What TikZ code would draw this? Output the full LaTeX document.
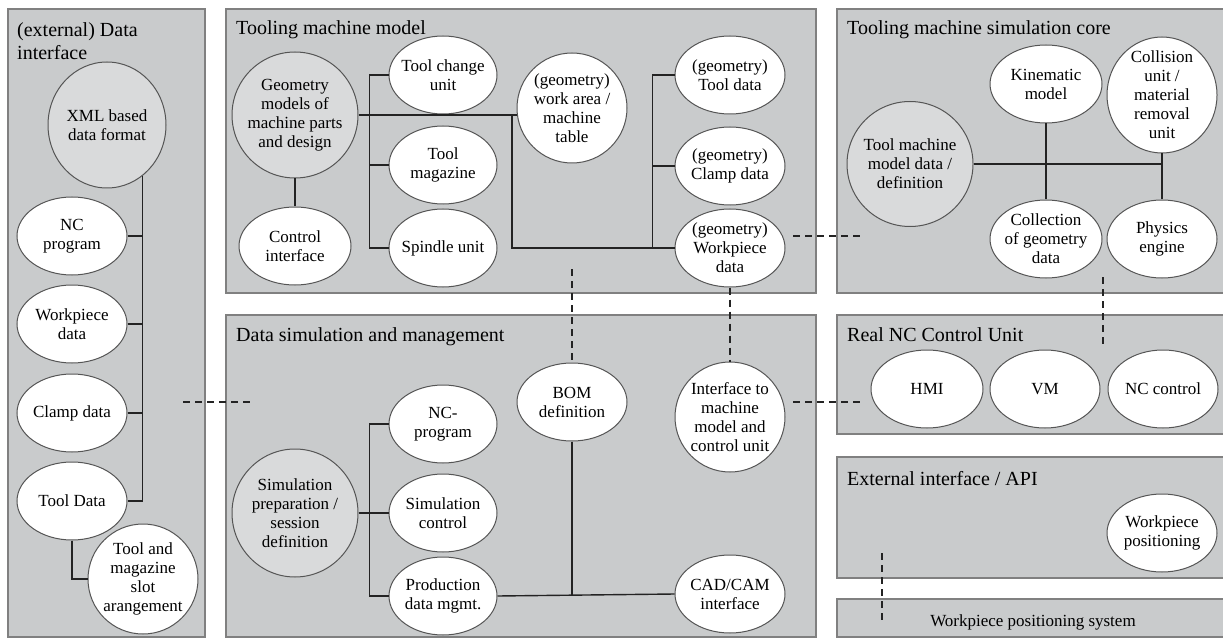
\documentclass[tikz,border=0pt]{standalone}
\usepackage{fontspec}
\setmainfont{Liberation Serif}
\usepackage{xcolor}
\usepackage{tikz}
\usetikzlibrary{positioning,shapes.geometric}

\definecolor{panelgrey}{RGB}{201,203,204}
\definecolor{panelline}{RGB}{128,128,128}
\definecolor{coregrey}{RGB}{217,218,219}
\definecolor{rimgrey}{RGB}{85,85,85}
\definecolor{wiregrey}{RGB}{35,35,35}

\newcommand{\unitfont}{\fontsize{17}{19}\selectfont}
\newcommand{\titlefont}{\fontsize{20}{23}\selectfont}

\tikzset{
    panel/.style={draw=panelline, fill=panelgrey, line width=1.6pt},
    paneltitle/.style={anchor=base west, inner sep=0pt, font=\titlefont},
    unit/.style={ellipse, draw=rimgrey, fill=white, line width=1pt,
        align=center, inner sep=-4pt,
        minimum width=110pt, minimum height=78pt, font=\unitfont},
    core/.style={unit, fill=coregrey,
        minimum width=126pt, minimum height=126pt},
    link/.style={draw=wiregrey, line width=1.4pt},
    hint/.style={draw=wiregrey, line width=1.3pt, dash pattern=on 7pt off 5pt}
}

\begin{document}
\begin{tikzpicture}[x=1pt, y=-1pt]

    \clip (0,0) rectangle (1223,639);
    \fill[white] (0,0) rectangle (1223,639);

    % panels
    \draw[panel] (8,9) rectangle (205,637);
    \draw[panel] (226,9) rectangle (816,293);
    \draw[panel] (837,9) rectangle (1240,293);
    \draw[panel] (226,315) rectangle (816,637);
    \draw[panel] (837,315) rectangle (1240,434);
    \draw[panel] (837,457) rectangle (1240,578);
    \draw[panel] (837,599) rectangle (1240,637);

    \node[paneltitle, anchor=north west, align=left]
        (datatitle) at (17,22) {(external) Data\\interface};
    \node[paneltitle] (modeltitle) at (236,35) {Tooling machine model};
    \node[paneltitle] (coretitle) at (847,35) {Tooling machine simulation core};
    \node[paneltitle] (simtitle) at (236,341) {Data simulation and management};
    \node[paneltitle] (nctitle) at (847,341) {Real NC Control Unit};
    \node[paneltitle] (apititle) at (847,485) {External interface / API};

    % (external) data interface
    \node[core,
        minimum width=118pt]
        (xml) at (107,125) {XML based\\data format};

    \node[unit]
        (ncprog) at (72,236) {NC\\program};

    \node[unit,
        below=9pt of ncprog]
        (wpdata) {Workpiece\\data};

    \node[unit,
        below=10pt of wpdata]
        (clamp) {Clamp data};

    \node[unit,
        below=9pt of clamp]
        (tooldata) {Tool Data};

    \node[unit,
        minimum height=110pt]
        (slots) at (143,579) {Tool and\\magazine\\slot\\arangement};

    \draw[link] (xml.-55) |- (tooldata.east);
    \foreach \n in {ncprog,wpdata,clamp}
        \draw[link] (\n.east) -- (\n.east -| xml.-55);
    \draw[link] (tooldata.south) |- (slots.west);

    % tooling machine model
    \node[core]
        (geom) at (295,115) {Geometry\\models of\\machine parts\\and design};

    \node[unit,
        minimum width=112pt]
        (ctrlif) at (295,246) {Control\\interface};

    \node[unit,
        minimum width=108pt]
        (toolchg) at (443,75) {Tool change\\unit};

    \node[unit,
        minimum width=108pt,
        below=11pt of toolchg]
        (toolmag) {Tool\\magazine};

    \node[unit,
        minimum width=108pt,
        below=4pt of toolmag]
        (spindle) {Spindle unit};

    \node[unit,
        minimum height=110pt]
        (workarea) at (572,108) {(geometry)\\work area /\\machine\\table};

    \node[unit]
        (toolgeo) at (730,75) {(geometry)\\Tool data};

    \node[unit,
        below=12pt of toolgeo]
        (clampgeo) {(geometry)\\Clamp data};

    \node[unit,
        below=3pt of clampgeo]
        (wpgeo) {(geometry)\\Workpiece\\data};

    \coordinate (tablefork) at (512,115);

    \draw[link] (geom.south) -- (ctrlif.north);
    \draw[link] (geom.east) -- (geom.east -| workarea.west);
    \draw[link] (toolchg.west) -- ++(-19,0) |- (spindle.west);
    \draw[link] (toolmag.west) -- ++(-19,0);
    \draw[link] (tablefork) |- (wpgeo.west);
    \draw[link] (toolgeo.west) -- ++(-22,0) |- (wpgeo.west);
    \draw[link] (clampgeo.west) -- ++(-22,0);

    % simulation core
    \node[core,
        minimum height=125pt]
        (tmm) at (910,164) {Tool machine\\model data /\\definition};

    \node[unit,
        minimum width=112pt]
        (kinem) at (1046,84) {Kinematic\\model};

    \node[unit,
        minimum height=116pt]
        (collis) at (1162,95) {Collision\\unit /\\material\\removal\\unit};

    \node[unit,
        minimum width=112pt]
        (collgeo) at (1046,239) {Collection\\of geometry\\data};

    \node[unit]
        (physics) at (1162,239) {Physics\\engine};

    \draw[link] (tmm.east) -- (tmm.east -| collis.south);
    \draw[link] (kinem.south) -- (collgeo.north);
    \draw[link] (collis.south) -- (physics.north);

    % real NC control unit
    \node[unit,
        minimum width=112pt]
        (hmi) at (927,389) {HMI};

    \node[unit,
        right=6pt of hmi]
        (vm) {VM};

    \node[unit,
        right=7pt of vm]
        (ncctrl) {NC control};

    % external interface
    \node[unit]
        (wppos) at (1162,533) {Workpiece\\positioning};

    \node[font=\unitfont]
        (wpsys) at (1033,622) {Workpiece positioning system};

    % data simulation and management
    \node[core,
        minimum height=128pt]
        (simprep) at (295,513) {Simulation\\preparation /\\session\\definition};

    \node[unit,
        minimum width=108pt]
        (ncprg) at (443,424) {NC-\\program};

    \node[unit,
        minimum width=108pt,
        below=10pt of ncprg]
        (simctrl) {Simulation\\control};

    \node[unit,
        minimum width=108pt,
        below=4pt of simctrl]
        (proddata) {Production\\data mgmt.};

    \node[unit]
        (bom) at (572,402) {BOM\\definition};

    \node[unit,
        minimum height=110pt]
        (iface) at (730,417) {Interface to\\machine\\model and\\control unit};

    \node[unit]
        (cadcam) at (730,594) {CAD/CAM\\interface};

    \draw[link] (ncprg.west) -- ++(-19,0) |- (proddata.west);
    \draw[link] (simprep.east) -- (simctrl.west);
    \draw[link] (proddata.east) -- (cadcam.west);
    \draw[link] (bom.south) -- (bom.south |- proddata.east);

    % dashed couplings
    \coordinate (modeldrop) at (572,269);
    \coordinate (dataout) at (183,402);
    \coordinate (datain) at (252,402);
    \coordinate (geoout) at (793,236);
    \coordinate (geoin) at (863,236);
    \coordinate (ctrlout) at (793,402);
    \coordinate (ctrlin) at (863,402);
    \coordinate (coreout) at (1103,277);
    \coordinate (corein) at (1103,345);
    \coordinate (apiout) at (882,553);
    \coordinate (apiin) at (882,620);

    \draw[hint] (modeldrop) -- (bom.north);
    \draw[hint] (wpgeo.south) -- (iface.north);
    \draw[hint] (dataout) -- (datain);
    \draw[hint] (geoout) -- (geoin);
    \draw[hint] (ctrlout) -- (ctrlin);
    \draw[hint] (coreout) -- (corein);
    \draw[hint] (apiout) -- (apiin);

\end{tikzpicture}
\end{document}
